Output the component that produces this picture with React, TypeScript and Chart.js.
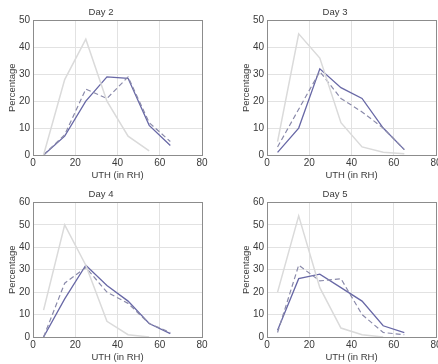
import React, { useEffect, useRef } from "react";
import { Chart, registerables } from "chart.js";

Chart.register(...registerables);

const uthBins = [5, 15, 25, 35, 45, 55, 65];
const xTicks = [0, 20, 40, 60, 80];

const day2Light = [0, 28, 43, 20, 7, 1.5, null];
const day2Solid = [0, 7, 20, 29, 28.5, 11, 3.5];
const day2Dashed = [0, 7.5, 24.5, 21, 29, 12, 5];

const day3Light = [5, 45, 36, 12, 3, 1, 0.5];
const day3Solid = [1, 10, 32, 25, 21, 10, 2];
const day3Dashed = [3, 17, 31, 21, 16, 10, 2];

const day4Light = [12, 50, 32, 7, 1, 0, null];
const day4Solid = [0, 17, 32, 23, 16, 6, 1.5];
const day4Dashed = [0, 24, 31, 20, 15, 6, 2];

const day5Light = [20, 54, 22, 4, 1, 0, null];
const day5Solid = [3, 26, 28, 22, 16, 5, 2];
const day5Dashed = [2, 32, 25, 26, 10, 2, 1];

const panels = [
  { title: "Day 2", light: day2Light, solid: day2Solid, dashed: day2Dashed, yMax: 50, left: 0, top: 0 },
  { title: "Day 3", light: day3Light, solid: day3Solid, dashed: day3Dashed, yMax: 50, left: 234, top: 0 },
  { title: "Day 4", light: day4Light, solid: day4Solid, dashed: day4Dashed, yMax: 60, left: 0, top: 182 },
  { title: "Day 5", light: day5Light, solid: day5Solid, dashed: day5Dashed, yMax: 60, left: 234, top: 182 },
];

const FONT = "'Liberation Sans', Arial, sans-serif";
const TEXT = "#3a3a3a";

const boxPlugin = {
  id: "boxBorder",
  afterDraw(chart: any) {
    const { ctx, chartArea } = chart;
    ctx.save();
    ctx.strokeStyle = "#8c8c8c";
    ctx.lineWidth = 1;
    ctx.strokeRect(
      Math.round(chartArea.left) + 0.5,
      Math.round(chartArea.top) + 0.5,
      Math.round(chartArea.right - chartArea.left),
      Math.round(chartArea.bottom - chartArea.top)
    );
    ctx.restore();
  },
};

function toPoints(vals: (number | null)[]) {
  return uthBins.map((x, i) => ({ x, y: vals[i] as any }));
}

function Panel(props: any) {
  const ref = useRef<HTMLCanvasElement>(null);
  const p = props.panel;
  useEffect(() => {
    const chart = new Chart(ref.current as HTMLCanvasElement, {
      type: "line",
      data: {
        datasets: [
          {
            data: toPoints(p.light),
            borderColor: "#dadada",
            borderWidth: 1.5,
            pointRadius: 0,
            tension: 0,
            spanGaps: false,
          },
          {
            data: toPoints(p.dashed),
            borderColor: "#8a8aaa",
            borderWidth: 1.2,
            borderDash: [5, 3],
            pointRadius: 0,
            tension: 0,
          },
          {
            data: toPoints(p.solid),
            borderColor: "#6868a6",
            borderWidth: 1.3,
            pointRadius: 0,
            tension: 0,
          },
        ],
      },
      options: {
        animation: false,
        responsive: false,
        maintainAspectRatio: false,
        events: [],
        layout: { padding: { left: 0, right: 17, top: 0, bottom: 0 } },
        plugins: {
          legend: { display: false },
          tooltip: { enabled: false },
          title: {
            display: true,
            text: p.title,
            color: TEXT,
            font: { family: FONT, size: 9.5, weight: "normal" as any, lineHeight: 1.2 },
            padding: { top: 7, bottom: 2 },
          },
        },
        scales: {
          x: {
            type: "linear",
            min: 0,
            max: 80,
            afterBuildTicks: (scale: any) => {
              scale.ticks = xTicks.map((v) => ({ value: v }));
            },
            afterFit: (scale: any) => {
              scale.height = 27;
            },
            grid: { color: "#e2e2e2", drawTicks: false, lineWidth: 1 },
            border: { display: false },
            ticks: {
              color: TEXT,
              padding: 2,
              maxRotation: 0,
              font: { family: FONT, size: 10, lineHeight: 1.2 },
            },
            title: {
              display: true,
              text: "UTH (in RH)",
              color: TEXT,
              font: { family: FONT, size: 9.5, lineHeight: 1.2 },
              padding: { top: 0, bottom: 1 },
            },
          },
          y: {
            type: "linear",
            min: 0,
            max: p.yMax,
            ticks: {
              stepSize: 10,
              color: TEXT,
              padding: 3,
              font: { family: FONT, size: 10, lineHeight: 1.2 },
            },
            afterFit: (scale: any) => {
              scale.width = 33;
            },
            grid: { color: "#e2e2e2", drawTicks: false, lineWidth: 1 },
            border: { display: false },
            title: {
              display: true,
              text: "Percentage",
              color: TEXT,
              font: { family: FONT, size: 9.5, lineHeight: 1.2 },
              padding: { top: 7, bottom: 0 },
            },
          },
        },
      },
      plugins: [boxPlugin],
    } as any);
    return () => chart.destroy();
  }, []);
  return (
    <canvas
      ref={ref}
      width={219}
      height={182}
      style={{ position: "absolute", left: p.left, top: p.top, width: 219, height: 182 }}
    />
  );
}

export default function App() {
  return (
    <div
      style={{
        position: "absolute",
        left: 0,
        top: 0,
        width: 438,
        height: 364,
        overflow: "hidden",
        background: "#ffffff",
      }}
    >
      {panels.map((p) => (
        <Panel key={p.title} panel={p} />
      ))}
    </div>
  );
}
